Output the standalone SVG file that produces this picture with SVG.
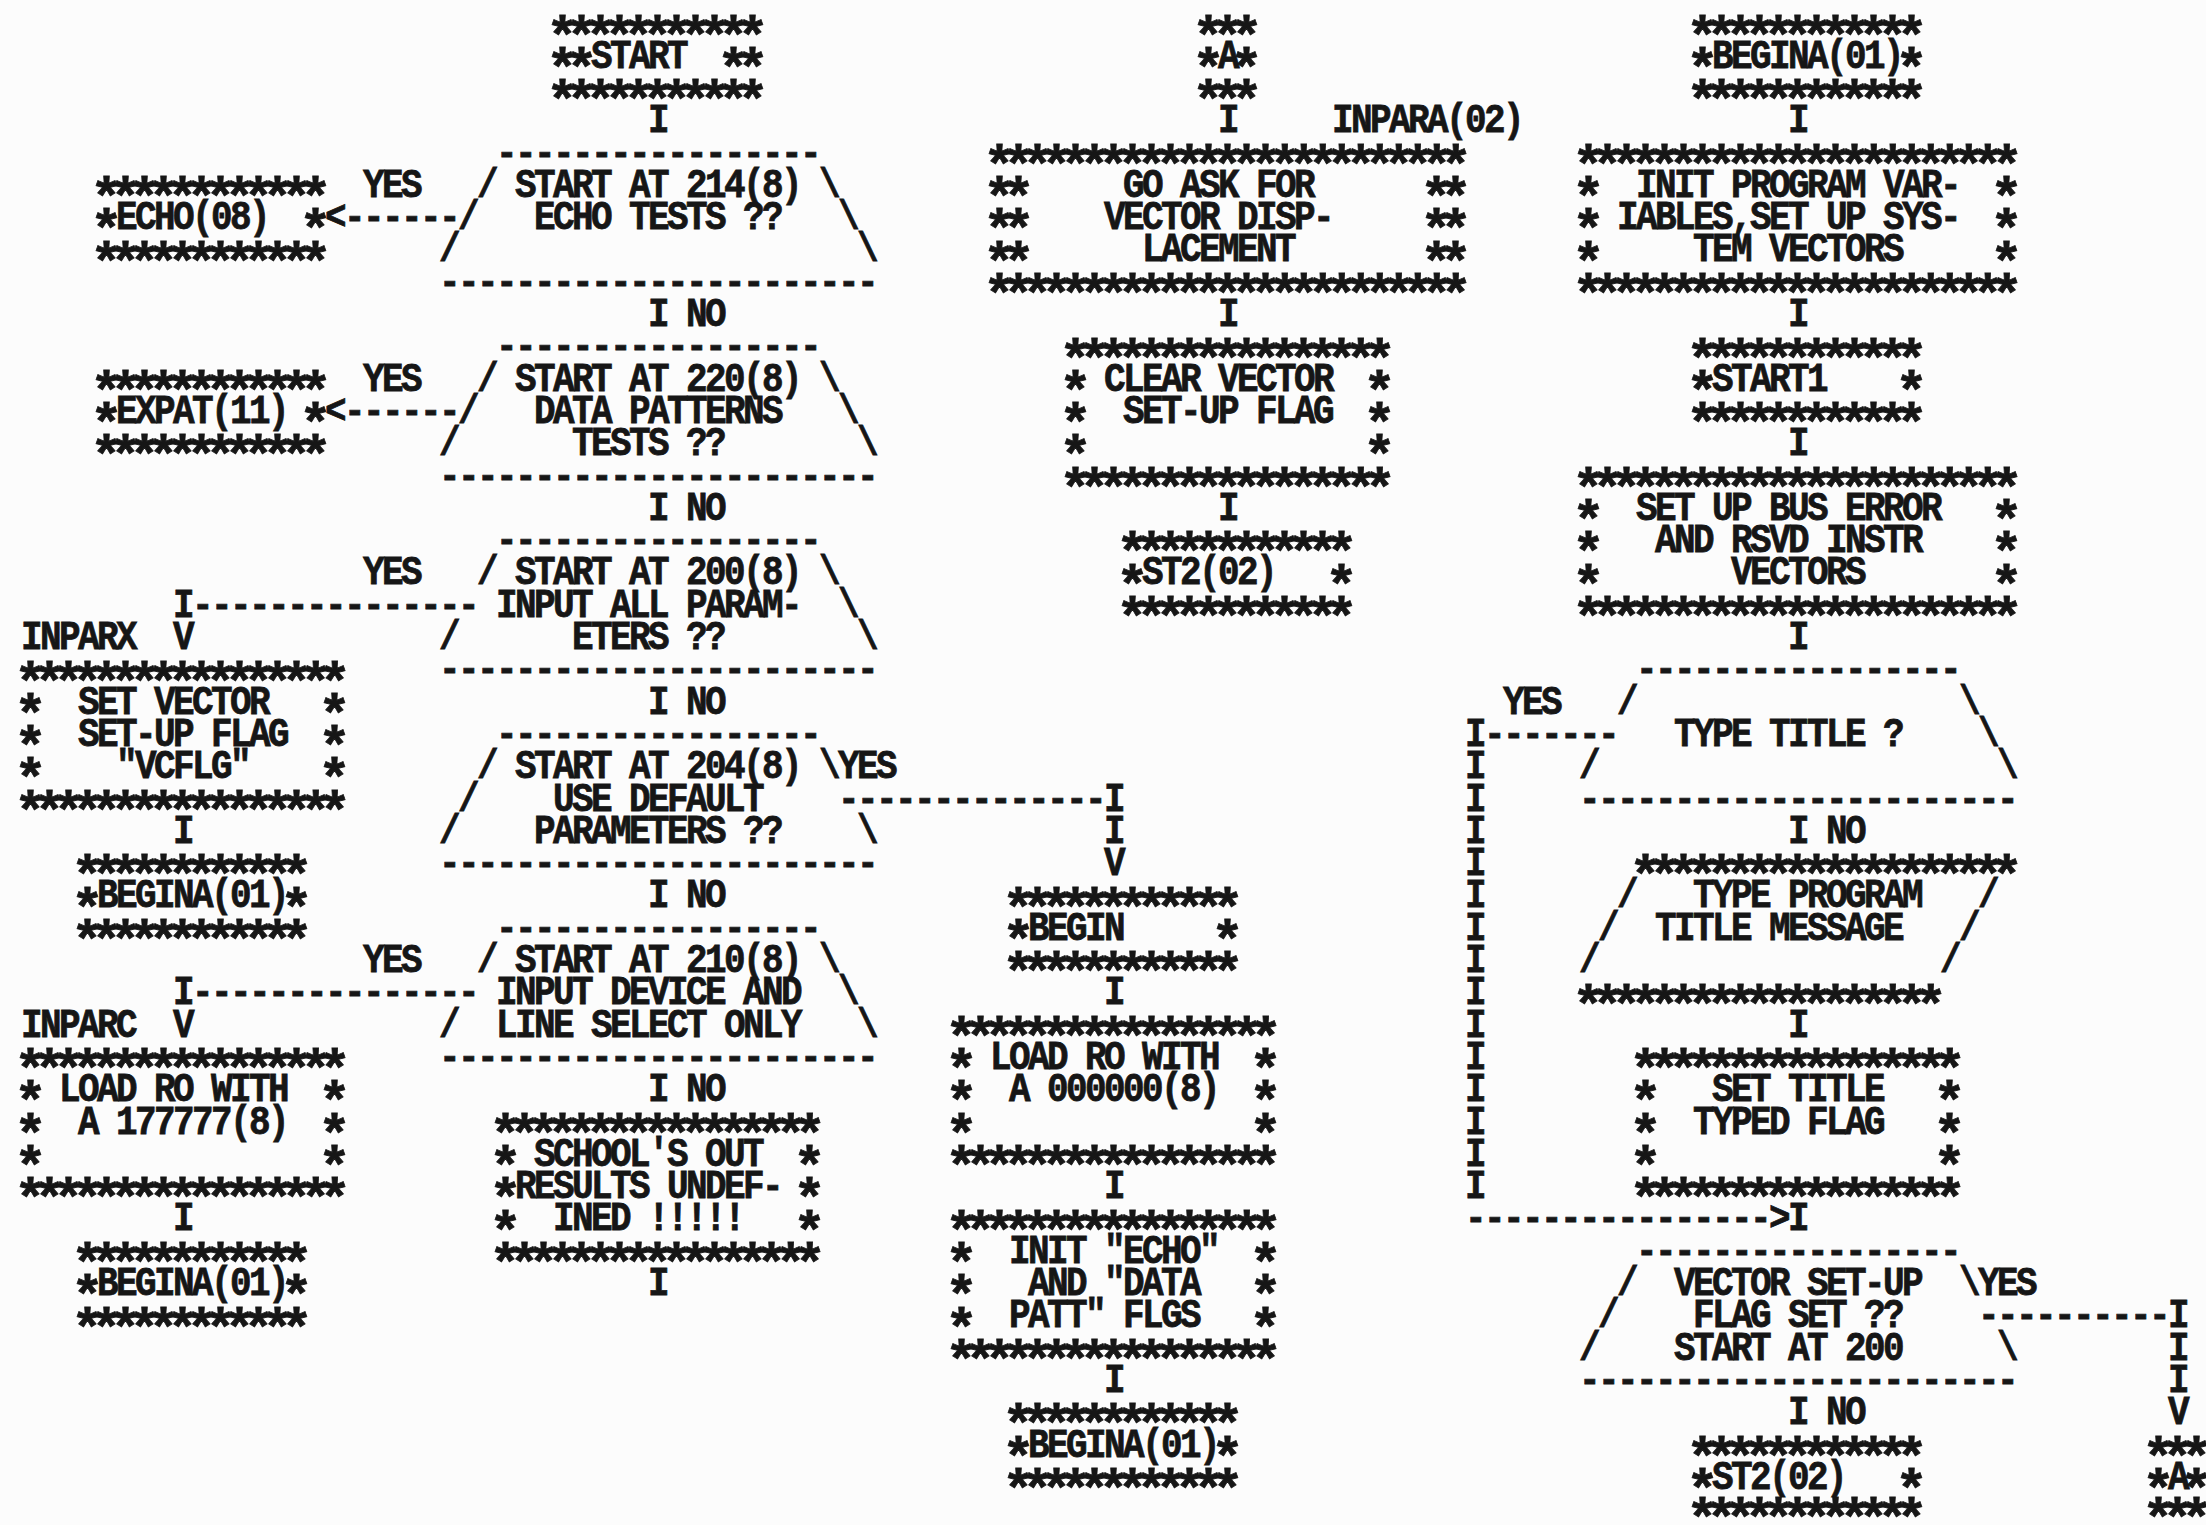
<svg xmlns="http://www.w3.org/2000/svg" width="2206" height="1525" viewBox="0 0 2206 1525">
<style>
.t{font-family:"Liberation Mono","DejaVu Sans Mono",monospace;font-weight:bold;font-size:36px;letter-spacing:-2.6px;fill:#161616;stroke:#161616;stroke-width:0.7px;transform-box:fill-box;transform-origin:center;transform:scale(1,1.15)}
.s{font-family:"Liberation Mono","DejaVu Sans Mono",monospace;font-weight:bold;font-size:54px;letter-spacing:-13.4px;fill:#161616;stroke:#161616;stroke-width:0.8px;transform:translate(-6.7px,19.5px)}
</style>
<rect x="0" y="0" width="2206" height="1525" fill="#fcfcfc"/>
<g id="n-start">
<text class="s" x="553" y="34">***********</text>
<text class="s" x="553" y="66.3">**</text><text class="t" x="591" y="66.3">START</text><text class="s" x="724" y="66.3">**</text>
<text class="s" x="553" y="98.6">***********</text>
</g>
<g id="n-dec1">
<text class="t" x="496" y="163.2">-----------------</text>
<text class="t" x="477" y="195.5">/</text><text class="t" x="515" y="195.5">START AT 214(8)</text><text class="t" x="819" y="195.5">\</text>
<text class="t" x="458" y="227.8">/</text><text class="t" x="534" y="227.8">ECHO TESTS ??</text><text class="t" x="838" y="227.8">\</text>
<text class="t" x="439" y="260.1">/</text><text class="t" x="857" y="260.1">\</text>
<text class="t" x="439" y="292.4">-----------------------</text>
</g>
<g id="n-echo">
<text class="s" x="97" y="195.5">************</text>
<text class="s" x="97" y="227.8">*</text><text class="t" x="116" y="227.8">ECHO(08)</text><text class="s" x="306" y="227.8">*</text>
<text class="s" x="97" y="260.1">************</text>
</g>
<g id="n-dec2">
<text class="t" x="496" y="357">-----------------</text>
<text class="t" x="477" y="389.3">/</text><text class="t" x="515" y="389.3">START AT 220(8)</text><text class="t" x="819" y="389.3">\</text>
<text class="t" x="458" y="421.6">/</text><text class="t" x="534" y="421.6">DATA PATTERNS</text><text class="t" x="838" y="421.6">\</text>
<text class="t" x="439" y="453.9">/</text><text class="t" x="572" y="453.9">TESTS ??</text><text class="t" x="857" y="453.9">\</text>
<text class="t" x="439" y="486.2">-----------------------</text>
</g>
<g id="n-expat">
<text class="s" x="97" y="389.3">************</text>
<text class="s" x="97" y="421.6">*</text><text class="t" x="116" y="421.6">EXPAT(11)</text><text class="s" x="306" y="421.6">*</text>
<text class="s" x="97" y="453.9">************</text>
</g>
<g id="n-dec3">
<text class="t" x="496" y="550.8">-----------------</text>
<text class="t" x="477" y="583.1">/</text><text class="t" x="515" y="583.1">START AT 200(8)</text><text class="t" x="819" y="583.1">\</text>
<text class="t" x="496" y="615.4">INPUT ALL PARAM-</text><text class="t" x="838" y="615.4">\</text>
<text class="t" x="439" y="647.7">/</text><text class="t" x="572" y="647.7">ETERS ??</text><text class="t" x="857" y="647.7">\</text>
<text class="t" x="439" y="680">-----------------------</text>
</g>
<g id="n-setvec">
<text class="t" x="21" y="647.7">INPARX</text>
<text class="s" x="21" y="680">*****************</text>
<text class="s" x="21" y="712.3">*</text><text class="t" x="78" y="712.3">SET VECTOR</text><text class="s" x="325" y="712.3">*</text>
<text class="s" x="21" y="744.6">*</text><text class="t" x="78" y="744.6">SET-UP FLAG</text><text class="s" x="325" y="744.6">*</text>
<text class="s" x="21" y="776.9">*</text><text class="t" x="116" y="776.9">&quot;VCFLG&quot;</text><text class="s" x="325" y="776.9">*</text>
<text class="s" x="21" y="809.2">*****************</text>
</g>
<g id="n-begina1">
<text class="s" x="78" y="873.8">************</text>
<text class="s" x="78" y="906.1">*</text><text class="t" x="97" y="906.1">BEGINA(01)</text><text class="s" x="287" y="906.1">*</text>
<text class="s" x="78" y="938.4">************</text>
</g>
<g id="n-dec4">
<text class="t" x="496" y="744.6">-----------------</text>
<text class="t" x="477" y="776.9">/</text><text class="t" x="515" y="776.9">START AT 204(8)</text><text class="t" x="819" y="776.9">\</text>
<text class="t" x="458" y="809.2">/</text><text class="t" x="553" y="809.2">USE DEFAULT</text>
<text class="t" x="439" y="841.5">/</text><text class="t" x="534" y="841.5">PARAMETERS ??</text><text class="t" x="857" y="841.5">\</text>
<text class="t" x="439" y="873.8">-----------------------</text>
</g>
<g id="n-begin">
<text class="s" x="1009" y="906.1">************</text>
<text class="s" x="1009" y="938.4">*</text><text class="t" x="1028" y="938.4">BEGIN</text><text class="s" x="1218" y="938.4">*</text>
<text class="s" x="1009" y="970.7">************</text>
</g>
<g id="n-dec5">
<text class="t" x="496" y="938.4">-----------------</text>
<text class="t" x="477" y="970.7">/</text><text class="t" x="515" y="970.7">START AT 210(8)</text><text class="t" x="819" y="970.7">\</text>
<text class="t" x="496" y="1003">INPUT DEVICE AND</text><text class="t" x="838" y="1003">\</text>
<text class="t" x="439" y="1035.3">/</text><text class="t" x="496" y="1035.3">LINE SELECT ONLY</text><text class="t" x="857" y="1035.3">\</text>
<text class="t" x="439" y="1067.6">-----------------------</text>
</g>
<g id="n-load177777">
<text class="t" x="21" y="1035.3">INPARC</text>
<text class="s" x="21" y="1067.6">*****************</text>
<text class="s" x="21" y="1099.9">*</text><text class="t" x="59" y="1099.9">LOAD RO WITH</text><text class="s" x="325" y="1099.9">*</text>
<text class="s" x="21" y="1132.2">*</text><text class="t" x="78" y="1132.2">A 177777(8)</text><text class="s" x="325" y="1132.2">*</text>
<text class="s" x="21" y="1164.5">*</text><text class="s" x="325" y="1164.5">*</text>
<text class="s" x="21" y="1196.8">*****************</text>
</g>
<g id="n-begina2">
<text class="s" x="78" y="1261.4">************</text>
<text class="s" x="78" y="1293.7">*</text><text class="t" x="97" y="1293.7">BEGINA(01)</text><text class="s" x="287" y="1293.7">*</text>
<text class="s" x="78" y="1326">************</text>
</g>
<g id="n-school">
<text class="s" x="496" y="1132.2">*****************</text>
<text class="s" x="496" y="1164.5">*</text><text class="t" x="534" y="1164.5">SCHOOL'S OUT</text><text class="s" x="800" y="1164.5">*</text>
<text class="s" x="496" y="1196.8">*</text><text class="t" x="515" y="1196.8">RESULTS UNDEF-</text><text class="s" x="800" y="1196.8">*</text>
<text class="s" x="496" y="1229.1">*</text><text class="t" x="553" y="1229.1">INED !!!!!</text><text class="s" x="800" y="1229.1">*</text>
<text class="s" x="496" y="1261.4">*****************</text>
</g>
<g id="n-a-top">
<text class="s" x="1199" y="34">***</text>
<text class="s" x="1199" y="66.3">*</text><text class="t" x="1218" y="66.3">A</text><text class="s" x="1237" y="66.3">*</text>
<text class="s" x="1199" y="98.6">***</text>
</g>
<g id="n-goask">
<text class="t" x="1332" y="130.9">INPARA(02)</text>
<text class="s" x="990" y="163.2">*************************</text>
<text class="s" x="990" y="195.5">**</text><text class="t" x="1123" y="195.5">GO ASK FOR</text><text class="s" x="1427" y="195.5">**</text>
<text class="s" x="990" y="227.8">**</text><text class="t" x="1104" y="227.8">VECTOR DISP-</text><text class="s" x="1427" y="227.8">**</text>
<text class="s" x="990" y="260.1">**</text><text class="t" x="1142" y="260.1">LACEMENT</text><text class="s" x="1427" y="260.1">**</text>
<text class="s" x="990" y="292.4">*************************</text>
</g>
<g id="n-clear">
<text class="s" x="1066" y="357">*****************</text>
<text class="s" x="1066" y="389.3">*</text><text class="t" x="1104" y="389.3">CLEAR VECTOR</text><text class="s" x="1370" y="389.3">*</text>
<text class="s" x="1066" y="421.6">*</text><text class="t" x="1123" y="421.6">SET-UP FLAG</text><text class="s" x="1370" y="421.6">*</text>
<text class="s" x="1066" y="453.9">*</text><text class="s" x="1370" y="453.9">*</text>
<text class="s" x="1066" y="486.2">*****************</text>
</g>
<g id="n-st2-mid">
<text class="s" x="1123" y="550.8">************</text>
<text class="s" x="1123" y="583.1">*</text><text class="t" x="1142" y="583.1">ST2(02)</text><text class="s" x="1332" y="583.1">*</text>
<text class="s" x="1123" y="615.4">************</text>
</g>
<g id="n-load000000">
<text class="s" x="952" y="1035.3">*****************</text>
<text class="s" x="952" y="1067.6">*</text><text class="t" x="990" y="1067.6">LOAD RO WITH</text><text class="s" x="1256" y="1067.6">*</text>
<text class="s" x="952" y="1099.9">*</text><text class="t" x="1009" y="1099.9">A 000000(8)</text><text class="s" x="1256" y="1099.9">*</text>
<text class="s" x="952" y="1132.2">*</text><text class="s" x="1256" y="1132.2">*</text>
<text class="s" x="952" y="1164.5">*****************</text>
</g>
<g id="n-initecho">
<text class="s" x="952" y="1229.1">*****************</text>
<text class="s" x="952" y="1261.4">*</text><text class="t" x="1009" y="1261.4">INIT &quot;ECHO&quot;</text><text class="s" x="1256" y="1261.4">*</text>
<text class="s" x="952" y="1293.7">*</text><text class="t" x="1028" y="1293.7">AND &quot;DATA</text><text class="s" x="1256" y="1293.7">*</text>
<text class="s" x="952" y="1326">*</text><text class="t" x="1009" y="1326">PATT&quot; FLGS</text><text class="s" x="1256" y="1326">*</text>
<text class="s" x="952" y="1358.3">*****************</text>
</g>
<g id="n-begina3">
<text class="s" x="1009" y="1422.9">************</text>
<text class="s" x="1009" y="1455.2">*</text><text class="t" x="1028" y="1455.2">BEGINA(01)</text><text class="s" x="1218" y="1455.2">*</text>
<text class="s" x="1009" y="1487.5">************</text>
</g>
<g id="n-begina-top">
<text class="s" x="1693" y="34">************</text>
<text class="s" x="1693" y="66.3">*</text><text class="t" x="1712" y="66.3">BEGINA(01)</text><text class="s" x="1902" y="66.3">*</text>
<text class="s" x="1693" y="98.6">************</text>
</g>
<g id="n-init">
<text class="s" x="1579" y="163.2">***********************</text>
<text class="s" x="1579" y="195.5">*</text><text class="t" x="1636" y="195.5">INIT PROGRAM VAR-</text><text class="s" x="1997" y="195.5">*</text>
<text class="s" x="1579" y="227.8">*</text><text class="t" x="1617" y="227.8">IABLES,SET UP SYS-</text><text class="s" x="1997" y="227.8">*</text>
<text class="s" x="1579" y="260.1">*</text><text class="t" x="1693" y="260.1">TEM VECTORS</text><text class="s" x="1997" y="260.1">*</text>
<text class="s" x="1579" y="292.4">***********************</text>
</g>
<g id="n-start1">
<text class="s" x="1693" y="357">************</text>
<text class="s" x="1693" y="389.3">*</text><text class="t" x="1712" y="389.3">START1</text><text class="s" x="1902" y="389.3">*</text>
<text class="s" x="1693" y="421.6">************</text>
</g>
<g id="n-setbus">
<text class="s" x="1579" y="486.2">***********************</text>
<text class="s" x="1579" y="518.5">*</text><text class="t" x="1636" y="518.5">SET UP BUS ERROR</text><text class="s" x="1997" y="518.5">*</text>
<text class="s" x="1579" y="550.8">*</text><text class="t" x="1655" y="550.8">AND RSVD INSTR</text><text class="s" x="1997" y="550.8">*</text>
<text class="s" x="1579" y="583.1">*</text><text class="t" x="1731" y="583.1">VECTORS</text><text class="s" x="1997" y="583.1">*</text>
<text class="s" x="1579" y="615.4">***********************</text>
</g>
<g id="n-typetitle">
<text class="t" x="1636" y="680">-----------------</text>
<text class="t" x="1617" y="712.3">/</text><text class="t" x="1959" y="712.3">\</text>
<text class="t" x="1674" y="744.6">TYPE TITLE ?</text><text class="t" x="1978" y="744.6">\</text>
<text class="t" x="1579" y="776.9">/</text><text class="t" x="1997" y="776.9">\</text>
<text class="t" x="1579" y="809.2">-----------------------</text>
</g>
<g id="n-typeprog">
<text class="s" x="1636" y="873.8">********************</text>
<text class="t" x="1617" y="906.1">/</text><text class="t" x="1693" y="906.1">TYPE PROGRAM</text><text class="t" x="1978" y="906.1">/</text>
<text class="t" x="1598" y="938.4">/</text><text class="t" x="1655" y="938.4">TITLE MESSAGE</text><text class="t" x="1959" y="938.4">/</text>
<text class="t" x="1579" y="970.7">/</text><text class="t" x="1940" y="970.7">/</text>
<text class="s" x="1579" y="1003">*******************</text>
</g>
<g id="n-settitle">
<text class="s" x="1636" y="1067.6">*****************</text>
<text class="s" x="1636" y="1099.9">*</text><text class="t" x="1712" y="1099.9">SET TITLE</text><text class="s" x="1940" y="1099.9">*</text>
<text class="s" x="1636" y="1132.2">*</text><text class="t" x="1693" y="1132.2">TYPED FLAG</text><text class="s" x="1940" y="1132.2">*</text>
<text class="s" x="1636" y="1164.5">*</text><text class="s" x="1940" y="1164.5">*</text>
<text class="s" x="1636" y="1196.8">*****************</text>
</g>
<g id="n-vecdec">
<text class="t" x="1636" y="1261.4">-----------------</text>
<text class="t" x="1617" y="1293.7">/</text><text class="t" x="1674" y="1293.7">VECTOR SET-UP</text><text class="t" x="1959" y="1293.7">\</text>
<text class="t" x="1598" y="1326">/</text><text class="t" x="1693" y="1326">FLAG SET ??</text>
<text class="t" x="1579" y="1358.3">/</text><text class="t" x="1674" y="1358.3">START AT 200</text><text class="t" x="1997" y="1358.3">\</text>
<text class="t" x="1579" y="1390.6">-----------------------</text>
</g>
<g id="n-st2-right">
<text class="s" x="1693" y="1455.2">************</text>
<text class="s" x="1693" y="1487.5">*</text><text class="t" x="1712" y="1487.5">ST2(02)</text><text class="s" x="1902" y="1487.5">*</text>
<text class="s" x="1693" y="1516">************</text>
</g>
<g id="n-a-bottom">
<text class="s" x="2149" y="1455.2">***</text>
<text class="s" x="2149" y="1487.5">*</text><text class="t" x="2168" y="1487.5">A</text><text class="s" x="2187" y="1487.5">*</text>
<text class="s" x="2149" y="1516">***</text>
</g>
<g id="connectors">
<text class="t" x="648" y="130.9">I</text>
<text class="t" x="648" y="324.7">I</text><text class="t" x="686" y="324.7">NO</text>
<text class="t" x="648" y="518.5">I</text><text class="t" x="686" y="518.5">NO</text>
<text class="t" x="648" y="712.3">I</text><text class="t" x="686" y="712.3">NO</text>
<text class="t" x="648" y="906.1">I</text><text class="t" x="686" y="906.1">NO</text>
<text class="t" x="648" y="1099.9">I</text><text class="t" x="686" y="1099.9">NO</text>
<text class="t" x="648" y="1293.7">I</text>
<text class="t" x="363" y="195.5">YES</text>
<text class="t" x="363" y="389.3">YES</text>
<text class="t" x="363" y="583.1">YES</text>
<text class="t" x="363" y="970.7">YES</text>
<text class="t" x="325" y="227.8">&lt;------</text>
<text class="t" x="325" y="421.6">&lt;------</text>
<text class="t" x="173" y="615.4">I---------------</text>
<text class="t" x="173" y="647.7">V</text>
<text class="t" x="173" y="841.5">I</text>
<text class="t" x="173" y="1003">I---------------</text>
<text class="t" x="173" y="1035.3">V</text>
<text class="t" x="173" y="1229.1">I</text>
<text class="t" x="838" y="776.9">YES</text>
<text class="t" x="838" y="809.2">--------------I</text>
<text class="t" x="1104" y="841.5">I</text>
<text class="t" x="1104" y="873.8">V</text>
<text class="t" x="1104" y="1003">I</text>
<text class="t" x="1104" y="1196.8">I</text>
<text class="t" x="1104" y="1390.6">I</text>
<text class="t" x="1218" y="130.9">I</text>
<text class="t" x="1218" y="324.7">I</text>
<text class="t" x="1218" y="518.5">I</text>
<text class="t" x="1788" y="130.9">I</text>
<text class="t" x="1788" y="324.7">I</text>
<text class="t" x="1788" y="453.9">I</text>
<text class="t" x="1788" y="647.7">I</text>
<text class="t" x="1788" y="841.5">I</text><text class="t" x="1826" y="841.5">NO</text>
<text class="t" x="1788" y="1035.3">I</text>
<text class="t" x="1503" y="712.3">YES</text>
<text class="t" x="1465" y="744.6">I-------</text>
<text class="t" x="1465" y="776.9">I</text>
<text class="t" x="1465" y="809.2">I</text>
<text class="t" x="1465" y="841.5">I</text>
<text class="t" x="1465" y="873.8">I</text>
<text class="t" x="1465" y="906.1">I</text>
<text class="t" x="1465" y="938.4">I</text>
<text class="t" x="1465" y="970.7">I</text>
<text class="t" x="1465" y="1003">I</text>
<text class="t" x="1465" y="1035.3">I</text>
<text class="t" x="1465" y="1067.6">I</text>
<text class="t" x="1465" y="1099.9">I</text>
<text class="t" x="1465" y="1132.2">I</text>
<text class="t" x="1465" y="1164.5">I</text>
<text class="t" x="1465" y="1196.8">I</text>
<text class="t" x="1465" y="1229.1">----------------&gt;I</text>
<text class="t" x="1978" y="1293.7">YES</text>
<text class="t" x="1978" y="1326">----------I</text>
<text class="t" x="2168" y="1358.3">I</text>
<text class="t" x="2168" y="1390.6">I</text>
<text class="t" x="2168" y="1422.9">V</text>
<text class="t" x="1788" y="1422.9">I</text><text class="t" x="1826" y="1422.9">NO</text>
</g>
</svg>
